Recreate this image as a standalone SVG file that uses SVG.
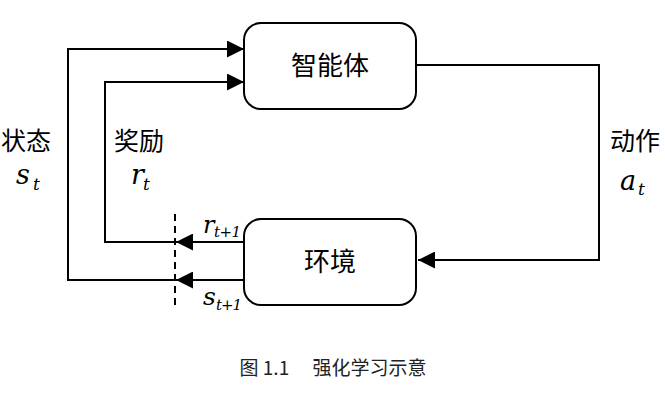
<svg xmlns="http://www.w3.org/2000/svg" width="665" height="400" viewBox="0 0 665 400">
<style>
.box{fill:#fff;stroke:#000;stroke-width:2}
.ln{fill:none;stroke:#000;stroke-width:2}
.cjk{font-family:"Noto Sans CJK SC","Noto Sans CJK JP",sans-serif;fill:#000}
.m{font-family:"DejaVu Serif","Liberation Serif",serif;font-style:italic;fill:#000}
.sub{font-family:"DejaVu Serif","Liberation Serif",serif;font-style:italic;fill:#000;font-size:17px}
.sub2{font-family:"DejaVu Serif","Liberation Serif",serif;font-style:italic;fill:#000;font-size:15px}
</style>
<defs>
<marker id="ah" viewBox="0 0 10 10" refX="10" refY="5" markerWidth="17" markerHeight="17" markerUnits="userSpaceOnUse" orient="auto">
<path d="M0,0 L10,5 L0,10 Z" fill="#000"/>
</marker>
</defs>
<rect width="665" height="400" fill="#fff"/>
<g id="connectors">
<path class="ln" d="M244,280 H68 V49 H244" marker-end="url(#ah)"/>
<path class="ln" d="M176,242 H105 V82 H244" marker-end="url(#ah)"/>
<path class="ln" d="M244,242 H176" marker-end="url(#ah)"/>
<path class="ln" d="M244,280 H176" marker-end="url(#ah)"/>
<path class="ln" d="M416,65 H599 V260 H418" marker-end="url(#ah)"/>
<line x1="175" y1="214" x2="175" y2="306" stroke="#000" stroke-width="2" stroke-dasharray="7,5"/>
</g>
<g id="agent">
<rect class="box" x="244" y="23" width="172" height="86" rx="17"/>
<text class="cjk" x="330" y="75" font-size="26" text-anchor="middle">智能体</text>
</g>
<g id="env">
<rect class="box" x="244" y="219" width="172" height="86" rx="17"/>
<text class="cjk" x="330" y="271" font-size="26" text-anchor="middle">环境</text>
</g>
<g id="labels">
<text class="cjk" x="26" y="150" font-size="25" text-anchor="middle">状态</text>
<text class="m" x="16" y="184" font-size="27">s</text><text class="sub" x="33" y="190">t</text>
<text class="cjk" x="139" y="150" font-size="25" text-anchor="middle">奖励</text>
<text class="m" x="131" y="184" font-size="27">r</text><text class="sub" x="143" y="190">t</text>
<text class="cjk" x="635" y="150" font-size="25" text-anchor="middle">动作</text>
<text class="m" x="620" y="190" font-size="27">a</text><text class="sub" x="638" y="195">t</text>
<text class="m" x="203" y="233" font-size="24">r</text><text class="sub2" x="214" y="237" textLength="27">t+1</text>
<text class="m" x="203" y="305" font-size="25">s</text><text class="sub2" x="216" y="310" textLength="26">t+1</text>
<text x="333" y="375" font-size="19" text-anchor="middle" font-family="'Noto Sans CJK SC',serif" fill="#222">图 1.1　 强化学习示意</text>
</g>
</svg>
